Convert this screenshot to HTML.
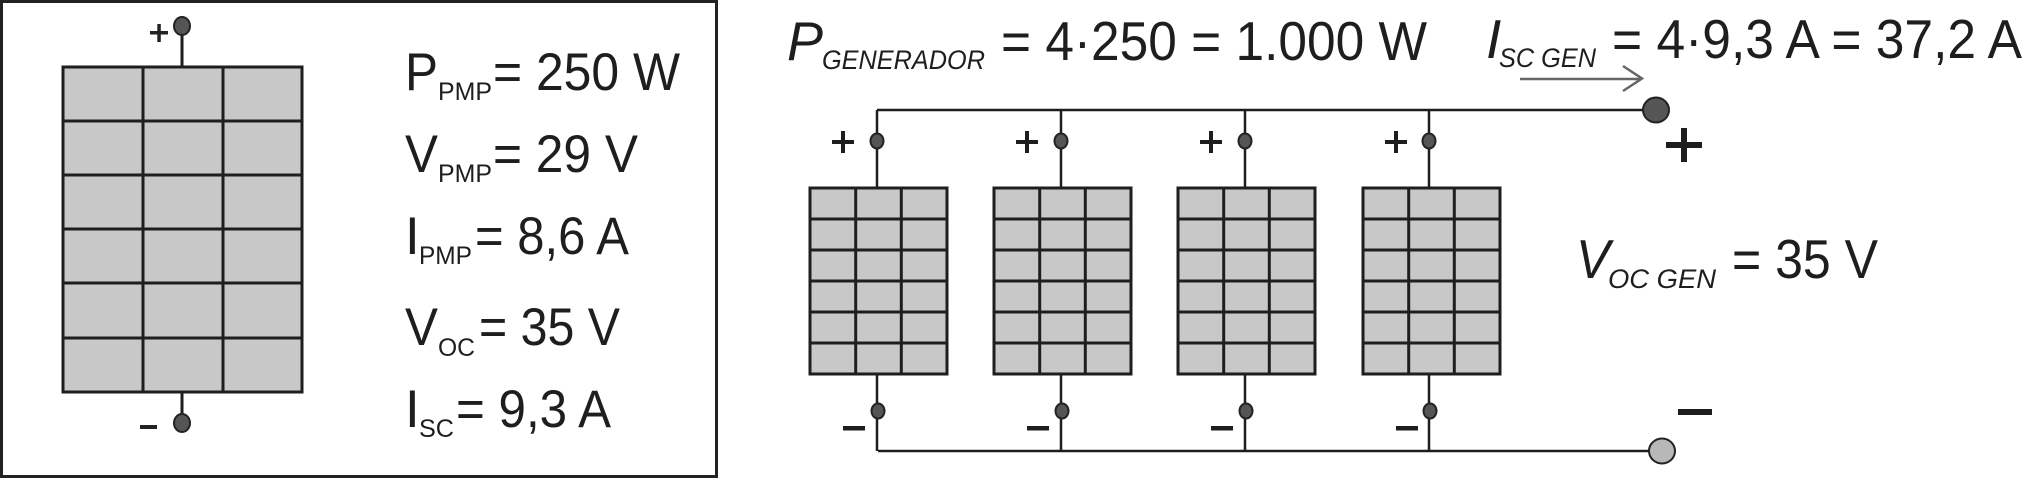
<!DOCTYPE html>
<html><head><meta charset="utf-8"><style>
html,body{margin:0;padding:0;background:#fff;width:2024px;height:479px;overflow:hidden}
svg{display:block}
text{font-family:"Liberation Sans",sans-serif;fill:#1e1e1e}
</style></head><body>
<svg width="2024" height="479" viewBox="0 0 2024 479" xmlns="http://www.w3.org/2000/svg">
<rect x="1.5" y="1.5" width="715" height="475" fill="#fff" stroke="#222" stroke-width="3"/>
<!-- left panel -->
<g stroke="#1e1e1e" stroke-width="3" fill="none">
<rect x="63" y="67" width="239" height="325" fill="#c8c8c8"/>
<path d="M143 67V392M223 67V392M63 121H302M63 175H302M63 229H302M63 283H302M63 338H302"/>
<path d="M182 26V67M182 392V423"/>
</g>
<ellipse cx="182" cy="26" rx="8" ry="9" fill="#555" stroke="#222" stroke-width="2"/>
<ellipse cx="182" cy="423" rx="8" ry="9" fill="#555" stroke="#222" stroke-width="2"/>
<rect x="150" y="31" width="18" height="3.5" fill="#222"/><rect x="157.3" y="24" width="3.5" height="18" fill="#222"/>
<rect x="140" y="425" width="17" height="4" fill="#222"/>
<!-- left text -->
<g font-size="53">
<text x="405" y="90" textLength="33" lengthAdjust="spacingAndGlyphs">P</text><text x="438" y="100" font-size="25" textLength="54" lengthAdjust="spacingAndGlyphs">PMP</text><text x="493" y="90" textLength="187" lengthAdjust="spacingAndGlyphs">= 250 W</text>
<text x="405" y="172" textLength="33" lengthAdjust="spacingAndGlyphs">V</text><text x="438" y="182" font-size="25" textLength="54" lengthAdjust="spacingAndGlyphs">PMP</text><text x="493" y="172" textLength="145" lengthAdjust="spacingAndGlyphs">= 29 V</text>
<text x="405" y="254">I</text><text x="419" y="264" font-size="25" textLength="53" lengthAdjust="spacingAndGlyphs">PMP</text><text x="475" y="254" textLength="154" lengthAdjust="spacingAndGlyphs">= 8,6 A</text>
<text x="405" y="345" textLength="33" lengthAdjust="spacingAndGlyphs">V</text><text x="438" y="356" font-size="25" textLength="37" lengthAdjust="spacingAndGlyphs">OC</text><text x="479" y="345" textLength="141" lengthAdjust="spacingAndGlyphs">= 35 V</text>
<text x="405" y="427">I</text><text x="419" y="437" font-size="25" textLength="35" lengthAdjust="spacingAndGlyphs">SC</text><text x="456" y="427" textLength="155" lengthAdjust="spacingAndGlyphs">= 9,3 A</text>
</g>
<!-- right circuit -->
<g stroke="#1e1e1e" stroke-width="2.5" fill="none">
<path d="M877 110H1656M878 451H1662"/>
<path d="M877 110V188M1061 110V188M1245 110V188M1429 110V188"/>
<path d="M877 374V451M1061 374V451M1245 374V451M1429 374V451"/>
</g>
<g stroke="#1e1e1e" stroke-width="3" fill="none">
<g id="p1">
<rect x="810" y="188" width="137" height="186" fill="#c8c8c8"/>
<path d="M855.7 188V374M901.3 188V374M810 219H947M810 250H947M810 281H947M810 312H947M810 343H947"/>
</g>
<use href="#p1" x="184"/><use href="#p1" x="368"/><use href="#p1" x="553"/>
</g>
<g fill="#555" stroke="#222" stroke-width="2">
<ellipse cx="877" cy="141" rx="6.5" ry="7.5"/><ellipse cx="1061" cy="141" rx="6.5" ry="7.5"/><ellipse cx="1245" cy="141" rx="6.5" ry="7.5"/><ellipse cx="1429" cy="141" rx="6.5" ry="7.5"/>
<ellipse cx="878" cy="411" rx="6.5" ry="7.5"/><ellipse cx="1062" cy="411" rx="6.5" ry="7.5"/><ellipse cx="1246" cy="411" rx="6.5" ry="7.5"/><ellipse cx="1430" cy="411" rx="6.5" ry="7.5"/>
<ellipse cx="1656" cy="110" rx="13" ry="12.5"/>
<ellipse cx="1662" cy="451" rx="13" ry="12.5" fill="#b8b8b8"/>
</g>
<g fill="#1e1e1e">
<g id="pl"><rect x="832" y="140" width="22" height="4"/><rect x="841" y="131" width="4" height="22"/><rect x="843" y="426" width="22" height="4.5"/></g>
<use href="#pl" x="184"/><use href="#pl" x="368"/><use href="#pl" x="553"/>
<rect x="1666" y="142" width="36" height="6"/><rect x="1681" y="128" width="6" height="34"/>
<rect x="1678" y="409" width="34" height="6"/>
</g>
<!-- arrow -->
<g stroke="#666" stroke-width="2.5" fill="none"><path d="M1520 79H1641M1623 66L1642 78.5L1623 91"/></g>
<!-- right text -->
<text x="787" y="60" font-size="55" font-style="italic" textLength="36" lengthAdjust="spacingAndGlyphs">P</text>
<text x="822" y="69" font-size="27" font-style="italic" textLength="163" lengthAdjust="spacingAndGlyphs">GENERADOR</text>
<text x="1001" y="60" font-size="55" textLength="426" lengthAdjust="spacingAndGlyphs">= 4·250 = 1.000 W</text>
<text x="1486" y="58" font-size="55" font-style="italic">I</text>
<text x="1499" y="67" font-size="27" font-style="italic" textLength="97" lengthAdjust="spacingAndGlyphs">SC GEN</text>
<text x="1612" y="58" font-size="55" textLength="410" lengthAdjust="spacingAndGlyphs">= 4·9,3 A = 37,2 A</text>
<text x="1576" y="278" font-size="55" font-style="italic" textLength="34" lengthAdjust="spacingAndGlyphs">V</text>
<text x="1608" y="288" font-size="27" font-style="italic" textLength="108" lengthAdjust="spacingAndGlyphs">OC  GEN</text>
<text x="1732" y="278" font-size="55" textLength="146" lengthAdjust="spacingAndGlyphs">= 35 V</text>
</svg>
</body></html>
